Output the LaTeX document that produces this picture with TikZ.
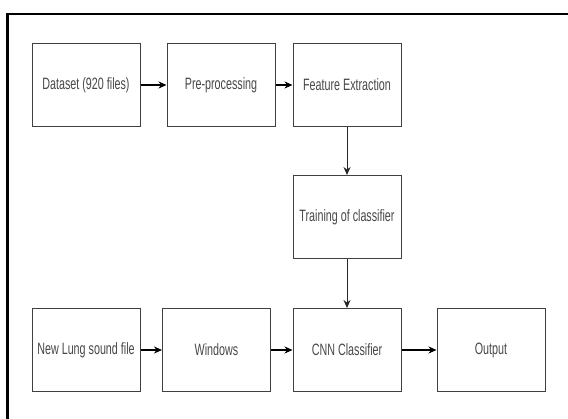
\documentclass[tikz,border=0pt]{standalone}
\usepackage{fontspec}
\setmainfont{Liberation Sans}
\usepackage{graphicx}
\usetikzlibrary{arrows.meta,positioning}

% narrow labels, as in the drawing
\newcommand{\narrowtxt}[1]{\scalebox{0.68}[1.04]{#1}}

\begin{document}
\begin{tikzpicture}[x=1pt, y=-1pt, >={Stealth[length=8pt,width=7pt]},
  stage/.style={rectangle,draw=black!75,line width=1pt,minimum width=108pt,minimum height=83pt,
    inner sep=0pt,text=black!72,font=\fontsize{15.8}{18}\selectfont},
  flow/.style={->,line width=1.1pt},
  vflow/.style={->,line width=0.8pt,black!85}]
  \useasboundingbox (0,0) rectangle (568,418);
  \draw[line width=2.5pt] (7.5,430) |- (580,14);
  % training path
  \node[stage] (data) at (86,85) {\narrowtxt{Dataset (920 files)}};
  \node[stage] (prep) at (221,85) {\narrowtxt{Pre-processing}};
  \node[stage] (feat) at (347,85) {\narrowtxt{Feature Extraction}};
  \node[stage] (train) at (347,217) {\narrowtxt{Training of classifier}};
  % test path
  \node[stage] (lung) at (86,350) {\narrowtxt{New Lung sound file}};
  \node[stage] (win) at (216.5,350) {\narrowtxt{Windows}};
  \node[stage] (cnn) at (347,350) {\narrowtxt{CNN Classifier}};
  \node[stage] (out) at (491,350) {\narrowtxt{Output}};
  \foreach \a/\b in {data/prep, prep/feat, lung/win, win/cnn, cnn/out} {
    \draw[flow] (\a) -- (\b);
  }
  \foreach \a/\b in {feat/train, train/cnn} { \draw[vflow] (\a) -- (\b); }
\end{tikzpicture}
\end{document}
